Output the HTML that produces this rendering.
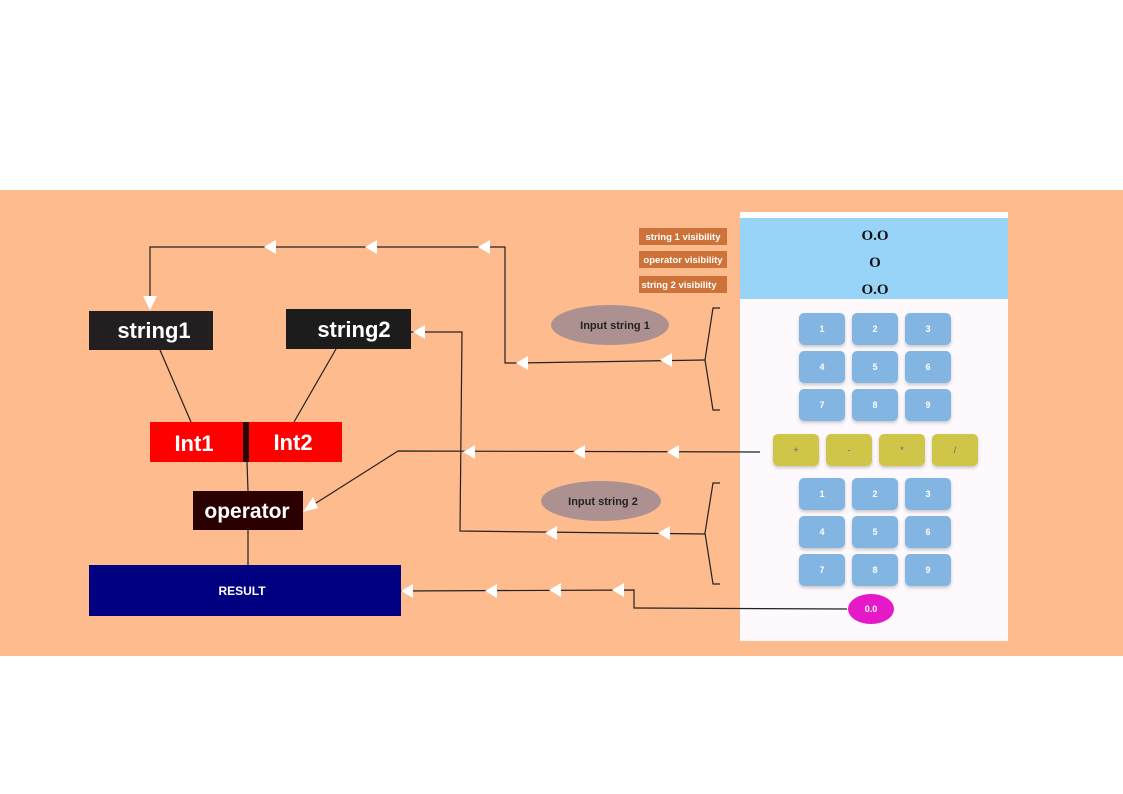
<!DOCTYPE html>
<html><head><meta charset="utf-8"><style>
html,body{margin:0;padding:0;background:#fff;width:1123px;height:794px;overflow:hidden}
svg{display:block}
text{font-family:"Liberation Sans",sans-serif}
</style></head><body>
<svg width="1123" height="794" xmlns="http://www.w3.org/2000/svg">
<defs>
<filter id="sh" x="-20%" y="-20%" width="140%" height="150%"><feDropShadow dx="0" dy="2" stdDeviation="1.5" flood-color="#000" flood-opacity="0.2"/></filter>
</defs>
<rect x="0" y="190" width="1123" height="466" fill="#fdbb8e"/>
<!-- panel -->
<rect x="740" y="212" width="268" height="429" fill="#fdf9fd"/>
<rect x="740" y="212" width="268" height="6" fill="#ffffff"/>
<rect x="740" y="218" width="268" height="81" fill="#98d4f8"/>
<g style="font-family:'Liberation Serif',serif" font-weight="bold" font-size="15" text-anchor="middle" fill="#111">
<text x="875" y="240" style="font-family:'Liberation Serif',serif">O.O</text><text x="875" y="267" style="font-family:'Liberation Serif',serif">O</text><text x="875" y="294" style="font-family:'Liberation Serif',serif">O.O</text></g>
<!-- labels -->
<g fill="#cd7239"><rect x="639" y="228" width="88" height="17"/><rect x="639" y="251" width="88" height="17"/><rect x="639" y="276" width="88" height="17"/></g>
<g fill="#fff" font-size="9.5" font-weight="bold" text-anchor="middle">
<text x="683" y="240">string 1 visibility</text><text x="683" y="263">operator visibility</text><text x="679" y="288">string 2 visibility</text></g>
<!-- keypads -->
<g fill="#82b5e2" filter="url(#sh)">
<rect x="799" y="313" width="46" height="32" rx="5"/><rect x="852" y="313" width="46" height="32" rx="5"/><rect x="905" y="313" width="46" height="32" rx="5"/>
<rect x="799" y="351" width="46" height="32" rx="5"/><rect x="852" y="351" width="46" height="32" rx="5"/><rect x="905" y="351" width="46" height="32" rx="5"/>
<rect x="799" y="389" width="46" height="32" rx="5"/><rect x="852" y="389" width="46" height="32" rx="5"/><rect x="905" y="389" width="46" height="32" rx="5"/>
<rect x="799" y="478" width="46" height="32" rx="5"/><rect x="852" y="478" width="46" height="32" rx="5"/><rect x="905" y="478" width="46" height="32" rx="5"/>
<rect x="799" y="516" width="46" height="32" rx="5"/><rect x="852" y="516" width="46" height="32" rx="5"/><rect x="905" y="516" width="46" height="32" rx="5"/>
<rect x="799" y="554" width="46" height="32" rx="5"/><rect x="852" y="554" width="46" height="32" rx="5"/><rect x="905" y="554" width="46" height="32" rx="5"/>
</g>
<g fill="#cfc54a" filter="url(#sh)">
<rect x="773" y="434" width="46" height="32" rx="5"/><rect x="826" y="434" width="46" height="32" rx="5"/><rect x="879" y="434" width="46" height="32" rx="5"/><rect x="932" y="434" width="46" height="32" rx="5"/>
</g>
<g fill="#fff" font-size="9" font-weight="bold" text-anchor="middle">
<text x="822" y="332">1</text><text x="875" y="332">2</text><text x="928" y="332">3</text>
<text x="822" y="370">4</text><text x="875" y="370">5</text><text x="928" y="370">6</text>
<text x="822" y="408">7</text><text x="875" y="408">8</text><text x="928" y="408">9</text>
<text x="822" y="497">1</text><text x="875" y="497">2</text><text x="928" y="497">3</text>
<text x="822" y="535">4</text><text x="875" y="535">5</text><text x="928" y="535">6</text>
<text x="822" y="573">7</text><text x="875" y="573">8</text><text x="928" y="573">9</text>
</g>
<g fill="#7a4aa0" font-size="9" text-anchor="middle">
<text x="796" y="453">+</text><text x="849" y="453">-</text><text x="902" y="453">*</text><text x="955" y="453">/</text></g>
<ellipse cx="871" cy="609" rx="23" ry="15" fill="#e619c8"/>
<text x="871" y="612" fill="#fff" font-size="9" font-weight="bold" text-anchor="middle">0.0</text>
<!-- ellipses -->
<ellipse cx="610" cy="325" rx="59" ry="20" fill="#ad9191"/>
<text x="615" y="329" font-size="11" font-weight="bold" fill="#222" text-anchor="middle">Input string 1</text>
<ellipse cx="601" cy="501" rx="60" ry="20" fill="#ad9191"/>
<text x="603" y="505" font-size="11" font-weight="bold" fill="#222" text-anchor="middle">Input string 2</text>
<!-- left nodes -->
<rect x="89" y="311" width="124" height="39" fill="#231f20"/>
<text x="154" y="338" font-size="22" font-weight="bold" fill="#fff" text-anchor="middle">string1</text>
<rect x="286" y="309" width="125" height="40" fill="#1c1c1c"/>
<text x="354" y="337" font-size="22" font-weight="bold" fill="#fff" text-anchor="middle">string2</text>
<rect x="150" y="422" width="192" height="40" fill="#ff0000"/>
<rect x="243" y="422" width="6" height="40" fill="#2a0505"/>
<text x="194" y="451" font-size="22" font-weight="bold" fill="#fff" text-anchor="middle">Int1</text>
<text x="293" y="450" font-size="22" font-weight="bold" fill="#fff" text-anchor="middle">Int2</text>
<rect x="193" y="491" width="110" height="39" fill="#2a0000"/>
<text x="247" y="518" font-size="21" font-weight="bold" fill="#fff" text-anchor="middle">operator</text>
<rect x="89" y="565" width="312" height="51" fill="#000080"/>
<text x="242" y="595" font-size="12" font-weight="bold" fill="#fff" text-anchor="middle">RESULT</text>
<!-- lines -->
<g stroke="#222" stroke-width="1.2" fill="none">
<line x1="160" y1="350" x2="191" y2="422"/>
<line x1="336" y1="349" x2="294" y2="422"/>
<line x1="247" y1="462" x2="248" y2="491"/>
<line x1="248" y1="530" x2="248" y2="565"/>
<polyline points="150,303 150,247 505,247 505,363 518,363 705,360"/>
<polyline points="720,308 713,308 705,360 713,410 720,410"/>
<polyline points="760,452 398,451 305,510"/>
<polyline points="720,483 713,483 705,533 713,584 720,584"/>
<polyline points="705,534 460,531 462,332 411,332"/>
<polyline points="847,609 634,608 634,590 401,591"/>
</g>
<!-- arrows -->
<g fill="#fff">
<polygon points="150,310 143,296 157,296"/>
<polygon points="264,247 276,240 276,254"/>
<polygon points="365,247 377,240 377,254"/>
<polygon points="478,247 490,240 490,254"/>
<polygon points="516,363 528,356 528,370"/>
<polygon points="660,360 672,353 672,367"/>
<polygon points="463,452 475,445 475,459"/>
<polygon points="573,452 585,445 585,459"/>
<polygon points="667,452 679,445 679,459"/>
<polygon points="303,512 313,497 318,508"/>
<polygon points="413,332 425,325 425,339"/>
<polygon points="545,533 557,526 557,540"/>
<polygon points="658,533 670,526 670,540"/>
<polygon points="401,591 413,584 413,598"/>
<polygon points="485,591 497,584 497,598"/>
<polygon points="549,590 561,583 561,597"/>
<polygon points="612,590 624,583 624,597"/>
</g>
</svg>
</body></html>
